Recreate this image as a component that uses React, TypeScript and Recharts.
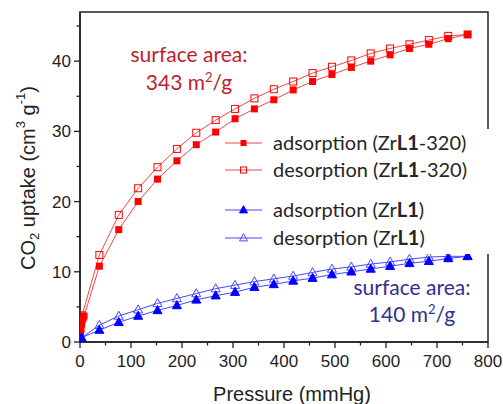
import React from 'react';
import { LineChart, Line, XAxis, YAxis, ReferenceArea, Legend } from 'recharts';

// Pressure points (mmHg) of the main isotherm steps
const pressures = [38, 76, 114, 152, 190, 228, 266, 304, 342, 380, 418, 456, 494, 532, 570, 608, 646, 684, 722, 760];

// ZrL1-320 (red)
const ads320LowP = [0.5, 1, 2, 3, 4, 6, 8];
const ads320LowV = [0.3, 1.0, 1.8, 2.5, 3.0, 3.4, 3.7];
const ads320 = [10.8, 16.0, 20.0, 23.2, 25.8, 28.1, 29.9, 31.8, 33.2, 34.5, 35.9, 37.1, 38.1, 39.1, 40.0, 40.9, 41.8, 42.4, 43.2, 43.8];
const des320 = [12.4, 18.1, 21.9, 24.9, 27.5, 29.8, 31.6, 33.2, 34.7, 36.0, 37.1, 38.3, 39.2, 40.1, 41.1, 41.8, 42.4, 43.0, 43.6, 43.8];
const des320LowP = [4];
const des320LowV = [3.8];

// ZrL1 (blue)
const adsL1LowP = [1, 3];
const adsL1LowV = [0.2, 0.6];
const adsL1 = [1.7, 2.8, 3.7, 4.5, 5.2, 6.0, 6.6, 7.1, 7.8, 8.2, 8.7, 9.1, 9.6, 10.0, 10.4, 10.8, 11.2, 11.5, 11.9, 12.2];
const desL1 = [2.4, 3.7, 4.6, 5.5, 6.2, 6.9, 7.6, 8.1, 8.6, 9.0, 9.4, 9.9, 10.4, 10.7, 11.1, 11.4, 11.8, 12.1, 12.2, 12.2];
const desL1LowP = [3];
const desL1LowV = [0.6];

const xTicks = [0, 50, 100, 150, 200, 250, 300, 350, 400, 450, 500, 550, 600, 650, 700, 750, 800];
const yTicks = [0, 5, 10, 15, 20, 25, 30, 35, 40, 45];

const legendLabels = [
  { pre: 'adsorption (Zr', bold: 'L1', post: '-320)' },
  { pre: 'desorption (Zr', bold: 'L1', post: '-320)' },
  { pre: 'adsorption (Zr', bold: 'L1', post: ')' },
  { pre: 'desorption (Zr', bold: 'L1', post: ')' },
];

const build = (lp: number[], lv: number[], vals: number[]) => [
  ...lp.map((p, i) => ({ p, v: lv[i] })),
  ...pressures.map((p, i) => ({ p, v: vals[i] })),
];

const ads320Data = build(ads320LowP, ads320LowV, ads320);
const des320Data = build(des320LowP, des320LowV, des320);
const adsL1Data = build(adsL1LowP, adsL1LowV, adsL1);
const desL1Data = build(desL1LowP, desL1LowV, desL1);

const RED = '#ff0000';
const RED_LINE = '#f04848';
const BLUE = '#0000ff';
const BLUE_LINE = '#4848ff';
const AXIS = '#222';
const TEXT_FONT = 'Lato, "Noto Sans", sans-serif';
const TICK_FONT = '"Liberation Sans", Arial, sans-serif';

const Square = ({ cx, cy, filled, size = 7 }: any) => (
  <rect
    x={cx - size / 2}
    y={cy - size / 2}
    width={size}
    height={size}
    fill={filled ? RED : 'none'}
    stroke={RED}
    strokeWidth={filled ? 0 : 1}
  />
);

const Triangle = ({ cx, cy, filled, size = 9 }: any) => {
  const h = size * 0.9;
  const d = `M${cx},${cy - h * 0.6} L${cx + size / 2},${cy + h * 0.4} L${cx - size / 2},${cy + h * 0.4} Z`;
  return <path d={d} fill={filled ? BLUE : 'none'} stroke={filled ? BLUE : BLUE_LINE} strokeWidth={1} />;
};

const dotFn = (kind: string) => (props: any) => {
  const { cx, cy, index } = props;
  if (cx == null || cy == null) return <g key={index} />;
  if (kind === 'sqF') return <Square key={index} cx={cx} cy={cy} filled />;
  if (kind === 'sqO') return <Square key={index} cx={cx} cy={cy} filled={false} />;
  if (kind === 'trF') return <Triangle key={index} cx={cx} cy={cy} filled />;
  return <Triangle key={index} cx={cx} cy={cy} filled={false} />;
};

const YTick = (props: any) => {
  const { x, y, payload } = props;
  const major = payload.value % 10 === 0;
  return (
    <g>
      <line x1={x - (major ? 6 : 3.5)} x2={x} y1={y} y2={y} stroke={AXIS} strokeWidth={1.3} />
      {major && (
        <text x={x - 9} y={y} dy="0.36em" textAnchor="end" fontFamily={TICK_FONT} fontSize={17} fill="#222">
          {payload.value}
        </text>
      )}
    </g>
  );
};

const XTick = (props: any) => {
  const { x, y, payload } = props;
  const major = payload.value % 100 === 0;
  return (
    <g>
      <line x1={x} x2={x} y1={y} y2={y + (major ? 6 : 3.5)} stroke={AXIS} strokeWidth={1.3} />
      {major && (
        <text x={x} y={y + 25} textAnchor="middle" fontFamily={TICK_FONT} fontSize={17} fill="#222">
          {payload.value}
        </text>
      )}
    </g>
  );
};

const YLabel = (props: any) => {
  const vb = props.viewBox || { x: 0, y: 12, width: 80, height: 330 };
  const cx = vb.x + 28;
  const cy = vb.y + vb.height / 2 + 1;
  return (
    <text
      x={cx}
      y={cy}
      transform={`rotate(-90 ${cx} ${cy})`}
      textAnchor="middle"
      dominantBaseline="central"
      fontFamily={TICK_FONT}
      fontSize={20}
      fill="#222"
    >
      CO
      <tspan fontSize={13} dy={6}>2</tspan>
      <tspan dy={-6}> uptake (cm</tspan>
      <tspan fontSize={13} dy={-8}>3</tspan>
      <tspan dy={8}> g</tspan>
      <tspan fontSize={13} dy={-8}>-1</tspan>
      <tspan dy={8}>)</tspan>
    </text>
  );
};

const XLabel = (props: any) => {
  const vb = props.viewBox || { x: 80, y: 342, width: 408, height: 62 };
  return (
    <text
      x={vb.x + vb.width / 2 + 8}
      y={vb.y + 59}
      textAnchor="middle"
      fontFamily={TICK_FONT}
      fontSize={20}
      fill="#222"
    >
      Pressure (mmHg)
    </text>
  );
};

const LegendContent = () => {
  const rows = [14, 41, 81, 109];
  const markers = ['sqF', 'sqO', 'trF', 'trO'];
  return (
    <svg width={280} height={125} style={{ display: 'block', overflow: 'visible' }}>
      {legendLabels.map((l, i) => {
        const y = rows[i];
        const red = i < 2;
        const m = markers[i];
        return (
          <g key={i}>
            <line x1={3} x2={40} y1={y} y2={y} stroke={red ? RED_LINE : BLUE_LINE} strokeWidth={1} />
            {m === 'sqF' && <Square cx={21.5} cy={y} filled size={6} />}
            {m === 'sqO' && <Square cx={21.5} cy={y} filled={false} size={6} />}
            {m === 'trF' && <Triangle cx={21.5} cy={y} filled size={8} />}
            {m === 'trO' && <Triangle cx={21.5} cy={y} filled={false} size={8} />}
            <text x={51} y={y + 7} fontFamily={TEXT_FONT} fontSize={20} fill="#262626">
              {l.pre}
              <tspan fontWeight="bold">{l.bold}</tspan>
              {l.post}
            </text>
          </g>
        );
      })}
    </svg>
  );
};

export default function App() {
  return (
    <div style={{ position: 'absolute', left: 0, top: 0, width: 503, height: 404, background: '#fff' }}>
      <LineChart width={503} height={404} margin={{ top: 12, right: 15, bottom: 0, left: 0 }}>
        <XAxis
          dataKey="p"
          type="number"
          domain={[0, 800]}
          ticks={xTicks}
          interval={0}
          allowDataOverflow
          height={62}
          tickSize={0}
          tickMargin={0}
          tickLine={false}
          tick={<XTick />}
          axisLine={{ stroke: AXIS, strokeWidth: 1.5 }}
          label={<XLabel />}
        />
        <YAxis
          type="number"
          domain={[0, 47]}
          ticks={yTicks}
          interval={0}
          allowDataOverflow
          width={80}
          tickSize={0}
          tickMargin={0}
          tickLine={false}
          tick={<YTick />}
          axisLine={{ stroke: AXIS, strokeWidth: 1.5 }}
          label={<YLabel />}
        />
        <ReferenceArea x1={0} x2={800} y1={0} y2={47} fill="none" stroke={AXIS} strokeWidth={1.5} ifOverflow="extendDomain" />
        <Line data={des320Data} dataKey="v" name="des320" stroke={RED_LINE} strokeWidth={1} dot={dotFn('sqO')} isAnimationActive={false} />
        <Line data={ads320Data} dataKey="v" name="ads320" stroke={RED_LINE} strokeWidth={1} dot={dotFn('sqF')} isAnimationActive={false} />
        <Line data={desL1Data} dataKey="v" name="desL1" stroke={BLUE_LINE} strokeWidth={1} dot={dotFn('trO')} isAnimationActive={false} />
        <Line data={adsL1Data} dataKey="v" name="adsL1" stroke={BLUE_LINE} strokeWidth={1} dot={dotFn('trF')} isAnimationActive={false} />
        <Legend
          layout="vertical"
          align="center"
          verticalAlign="middle"
          content={<LegendContent />}
          wrapperStyle={{ position: 'absolute', left: 222, top: 129, width: 280, height: 125, background: '#fff' }}
        />
      </LineChart>
      <svg width={503} height={404} style={{ position: 'absolute', left: 0, top: 0, pointerEvents: 'none' }}>
        <g fontFamily={TEXT_FONT} fontSize={21} textAnchor="middle">
          <text x={189} y={62} fill="#be1e2d">surface area:</text>
          <text x={189} y={90} fill="#be1e2d">
            343 m<tspan fontSize={13} dy={-8}>2</tspan><tspan dy={8}>/g</tspan>
          </text>
          <text x={412} y={295} fill="#2e3192">surface area:</text>
          <text x={412} y={322} fill="#2e3192">
            140 m<tspan fontSize={13} dy={-8}>2</tspan><tspan dy={8}>/g</tspan>
          </text>
        </g>
      </svg>
    </div>
  );
}
